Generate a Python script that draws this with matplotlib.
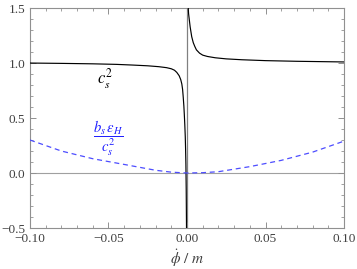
import matplotlib
matplotlib.use("Agg")
import matplotlib.pyplot as plt
from matplotlib.ticker import MultipleLocator

plt.rcParams['mathtext.fontset'] = 'stix'
plt.rcParams['font.family'] = ['Liberation Serif', 'DejaVu Serif']

# c_s^2, left branch (phi_dot < 0)
cs_left_x = [-0.1, -0.08, -0.06, -0.045, -0.035, -0.025, -0.018, -0.013, -0.01,
             -0.008, -0.0065, -0.005, -0.004, -0.0033, -0.0028, -0.0024, -0.002,
             -0.0017, -0.0014, -0.0011, -0.0009, -0.0007, -0.0005, -0.0003, -0.0001]
cs_left_y = [1.0, 0.997, 0.993, 0.988, 0.982, 0.975, 0.967, 0.958, 0.948,
             0.935, 0.915, 0.885, 0.85, 0.81, 0.76, 0.69, 0.61,
             0.53, 0.44, 0.33, 0.22, 0.08, -0.15, -0.52, -2.0]
# c_s^2, right branch (phi_dot > 0)
cs_right_x = [0.0005, 0.0008, 0.001, 0.0015, 0.002, 0.003, 0.004, 0.005, 0.006,
              0.008, 0.01, 0.013, 0.018, 0.025, 0.035, 0.05, 0.07, 0.1]
cs_right_y = [2.0, 1.5, 1.45, 1.39, 1.33, 1.24, 1.185, 1.15, 1.12,
              1.09, 1.072, 1.06, 1.048, 1.038, 1.03, 1.022, 1.016, 1.01]

# b_s eps_H / c_s^2
b_x = [-0.1, -0.08, -0.06, -0.04, -0.02, -0.01, 0.0, 0.01, 0.02, 0.04, 0.06, 0.08, 0.1]
b_y = [0.30, 0.20, 0.13, 0.078, 0.025, 0.008, 0.0, 0.003, 0.012, 0.058, 0.115, 0.19, 0.29]

xticks = [-0.10, -0.05, 0.00, 0.05, 0.10]
xticklabels = ['−0.10', '−0.05', '0.00', '0.05', '0.10']
yticks = [-0.5, 0.0, 0.5, 1.0, 1.5]
yticklabels = ['−0.5', '0.0', '0.5', '1.0', '1.5']

fig = plt.figure(figsize=(3.57, 2.69), dpi=100)
ax = fig.add_axes([0.084, 0.1524, 0.8796, 0.8176])

ax.axhline(0, color='#a0a0a0', lw=0.8, zorder=1)
ax.axvline(0, color='#808080', lw=0.9, zorder=1)

ax.plot(cs_left_x, cs_left_y, color='black', lw=0.85, zorder=3)
ax.plot(cs_right_x, cs_right_y, color='black', lw=0.85, zorder=3)
ax.plot(b_x, b_y, color='#4d4dff', lw=0.9, dashes=(4, 3), zorder=3)

ax.set_xlim(-0.1, 0.1)
ax.set_ylim(-0.5, 1.5)
ax.set_xticks(xticks)
ax.set_xticklabels(xticklabels)
ax.set_yticks(yticks)
ax.set_yticklabels(yticklabels)
ax.xaxis.set_minor_locator(MultipleLocator(0.01))
ax.yaxis.set_minor_locator(MultipleLocator(0.1))
ax.tick_params(which='both', direction='in', top=True, right=True,
               color='#909090', labelcolor='#404040', labelsize=9.5)
ax.tick_params(which='major', length=4, width=0.7)
ax.tick_params(which='minor', length=2, width=0.6)
for s in ax.spines.values():
    s.set_color('#909090')
    s.set_linewidth(0.8)

ax.set_xlabel(r'$\dot{\phi}\ /\ m$', fontsize=11, color='#404040', labelpad=2)

ax.text(-0.052, 0.86, r'$c_s^2$', fontsize=12, color='black', ha='center', va='center')
ax.text(-0.0503, 0.32, r'$\dfrac{b_s\,\epsilon_H}{c_s^2}$', fontsize=10.5, color='#2020ff',
        ha='center', va='center')

fig.savefig('out.png', dpi=100)
